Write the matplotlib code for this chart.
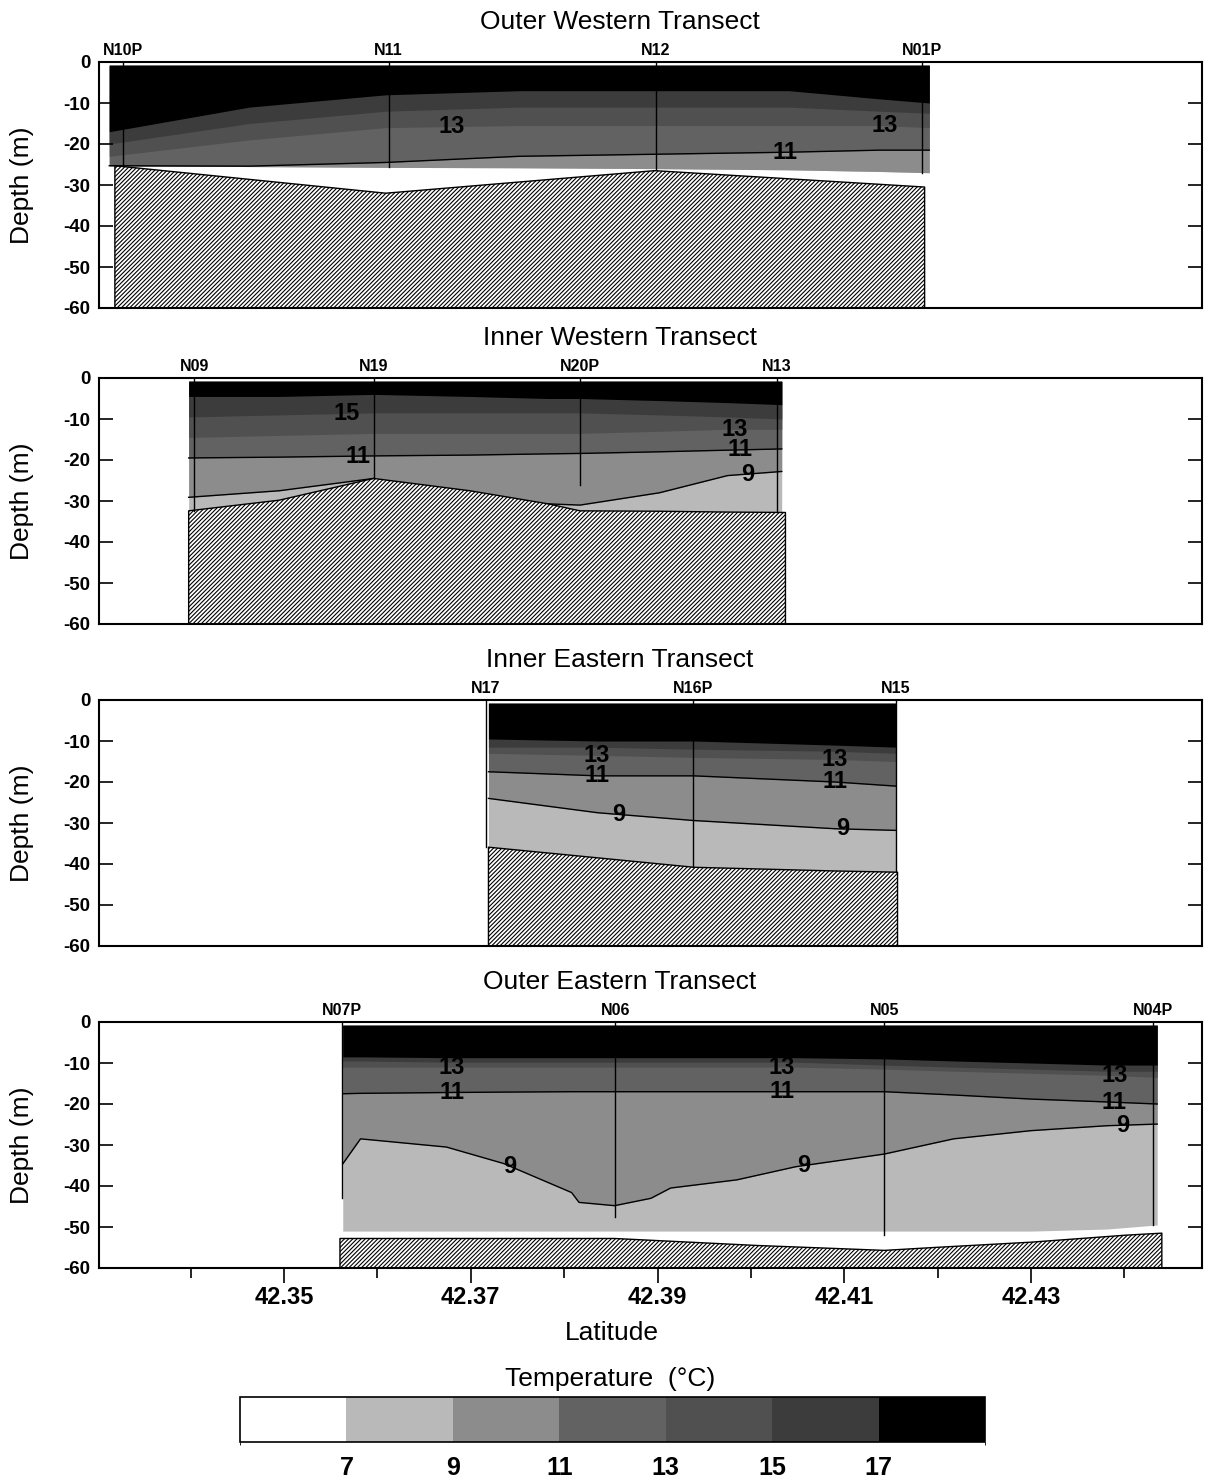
import numpy as np
import matplotlib.pyplot as plt
from matplotlib.colors import ListedColormap, BoundaryNorm
from matplotlib.cm import ScalarMappable

plt.rcParams['font.family'] = ['Liberation Sans', 'DejaVu Sans']
plt.rcParams['axes.unicode_minus'] = False
plt.rcParams['hatch.linewidth'] = 0.8

# temperature classes (deg C) and the grey used for each band
temp_levels = [7, 9, 11, 13, 15, 17]
band_colors = ['#ffffff', '#b9b9b9', '#8c8c8c', '#626262', '#505050', '#3c3c3c', '#000000']
surface = -0.8

# ---- Outer Western Transect ----
ow_lat = [42.3313, 42.3463, 42.3609, 42.3752, 42.3897, 42.4041, 42.4138, 42.4191]
ow_t17 = [-17, -11, -8, -7, -7, -7, -9, -10]
ow_t15 = [-20, -15, -12, -11, -11, -11, -12, -12.5]
ow_t13 = [-23, -19, -16, -15.5, -15.5, -15.5, -15.5, -16]
ow_t11 = [-25.3, -25.4, -24.5, -23, -22.5, -22, -21.5, -21.5]
ow_t9 = [-25.3, -25.5, -25.7, -25.8, -26.0, -26.3, -26.7, -27]
ow_bottom = [-25.3, -25.5, -25.7, -25.8, -26.0, -26.3, -26.7, -27]
ow_floor_lat = [42.3319, 42.3609, 42.3897, 42.4186]
ow_floor = [-25.3, -32, -26.5, -30.5]
ow_stations = ['N10P', 'N11', 'N12', 'N01P']
ow_station_lat = [42.3328, 42.3612, 42.3898, 42.4183]
ow_cast = [-25.3, -25.7, -26.0, -27]
ow_labels = ['13', '11', '13']
ow_label_lat = [42.3680, 42.4036, 42.4143]

# ---- Inner Western Transect ----
iw_lat = [42.3398, 42.3495, 42.3596, 42.3699, 42.3783, 42.3817, 42.3902, 42.3975, 42.4033]
iw_t17 = [-4.5, -4.5, -4, -4.5, -5, -5, -5.5, -6, -6.5]
iw_t15 = [-9.5, -9, -8.5, -8.5, -8.5, -8.5, -9, -9.5, -10]
iw_t13 = [-14.5, -14, -13.5, -13.5, -13.5, -13.5, -13, -12.5, -12.5]
iw_t11 = [-19.5, -19.3, -19, -18.8, -18.5, -18.4, -18, -17.6, -17.3]
iw_t9 = [-29.1, -27.5, -24.5, -27.5, -30.7, -31.0, -28, -23.8, -22.8]
iw_bottom = [-32.4, -29.8, -24.5, -27.5, -30.7, -32.4, -32.5, -32.7, -32.8]
iw_floor_lat = [42.3398, 42.3495, 42.3596, 42.3699, 42.3783, 42.3817, 42.3902, 42.3975, 42.4037]
iw_floor = [-32.4, -29.8, -24.5, -27.5, -30.7, -32.4, -32.5, -32.7, -32.8]
iw_stations = ['N09', 'N19', 'N20P', 'N13']
iw_station_lat = [42.3404, 42.3596, 42.3817, 42.4028]
iw_cast = [-32.4, -24.5, -26.0, -32.8]
iw_labels = ['15', '11', '13', '11', '9']
iw_label_lat = [42.3567, 42.3579, 42.3983, 42.3988, 42.3997]

# ---- Inner Eastern Transect ----
ie_lat = [42.3719, 42.3836, 42.3939, 42.4090, 42.4155]
ie_t17 = [-9.5, -10, -10, -11, -11.5]
ie_t15 = [-11.5, -11.5, -12, -12.5, -13]
ie_t13 = [-13, -13.5, -14, -14.5, -15]
ie_t11 = [-17.5, -18.5, -18.5, -20, -21]
ie_t9 = [-24, -27.5, -29.4, -31.4, -31.8]
ie_bottom = [-35.9, -38.5, -40.8, -41.7, -42.0]
ie_floor_lat = [42.3719, 42.3836, 42.3939, 42.4090, 42.4157]
ie_floor = [-35.9, -38.5, -40.8, -41.7, -42.0]
ie_stations = ['N17', 'N16P', 'N15']
ie_station_lat = [42.3716, 42.3938, 42.4155]
ie_cast = [-35.9, -40.8, -42.0]
ie_labels = ['13', '11', '13', '11', '9', '9']
ie_label_lat = [42.3835, 42.3835, 42.4090, 42.4090, 42.3858, 42.4098]

# ---- Outer Eastern Transect ----
oe_lat = [42.3563, 42.3582, 42.3674, 42.3735, 42.3808, 42.3816, 42.3854, 42.3893,
          42.3914, 42.3985, 42.4048, 42.4143, 42.4217, 42.4300, 42.4381, 42.4435]
oe_t17 = [-8.5, -8.5, -8.7, -8.7, -8.7, -8.7, -8.7, -8.7,
          -8.7, -8.7, -8.7, -9, -9.5, -10, -10.5, -10.5]
oe_t15 = [-9.5, -9.5, -9.8, -9.8, -9.8, -9.8, -9.8, -9.8,
          -9.8, -9.8, -9.8, -10.5, -11, -11.5, -12, -12]
oe_t13 = [-11, -11, -11, -11, -11, -11, -11, -11,
          -11, -11, -11, -11.5, -12, -12.5, -13, -13.5]
oe_t11 = [-17.5, -17.4, -17.2, -17.1, -17, -17, -17, -17,
          -17, -17, -17, -17, -17.8, -18.8, -19.5, -20]
oe_t9 = [-34.6, -28.5, -30.5, -34.5, -41.6, -44, -44.8, -43,
         -40.5, -38.5, -35.3, -32.2, -28.5, -26.5, -25.3, -24.9]
oe_bottom = [-51, -51, -51, -51, -51, -51, -51, -51,
             -51, -51, -51, -51, -51, -51, -50.5, -49.5]
oe_floor_lat = [42.3560, 42.3854, 42.4006, 42.4143, 42.4196, 42.4300, 42.4401, 42.4440]
oe_floor = [-52.8, -52.8, -54.5, -55.7, -55, -53.7, -52, -51.5]
oe_stations = ['N07P', 'N06', 'N05', 'N04P']
oe_station_lat = [42.3562, 42.3855, 42.4143, 42.4431]
oe_cast = [-43, -47.5, -52, -49.5]
oe_labels = ['13', '11', '13', '11', '13', '11', '9', '9', '9']
oe_label_lat = [42.3680, 42.3680, 42.4033, 42.4033, 42.4389, 42.4389, 42.4398, 42.3742, 42.4057]

titles = ['Outer Western Transect', 'Inner Western Transect',
          'Inner Eastern Transect', 'Outer Eastern Transect']

panels = [
    (ow_lat, [ow_t17, ow_t15, ow_t13, ow_t11, ow_t9], ow_bottom, ow_floor_lat, ow_floor,
     ow_stations, ow_station_lat, ow_cast, ow_labels, ow_label_lat),
    (iw_lat, [iw_t17, iw_t15, iw_t13, iw_t11, iw_t9], iw_bottom, iw_floor_lat, iw_floor,
     iw_stations, iw_station_lat, iw_cast, iw_labels, iw_label_lat),
    (ie_lat, [ie_t17, ie_t15, ie_t13, ie_t11, ie_t9], ie_bottom, ie_floor_lat, ie_floor,
     ie_stations, ie_station_lat, ie_cast, ie_labels, ie_label_lat),
    (oe_lat, [oe_t17, oe_t15, oe_t13, oe_t11, oe_t9], oe_bottom, oe_floor_lat, oe_floor,
     oe_stations, oe_station_lat, oe_cast, oe_labels, oe_label_lat),
]

W, H = 1216, 1478
fig = plt.figure(figsize=(W / 100, H / 100), dpi=100)

panel_tops = [62, 378, 700, 1022]
panel_h = 246
ax_left, ax_right = 99, 1202

for k, (lat, isos, bottom, flat, fdep, names, slat, cast, labs, lablat) in enumerate(panels):
    top = panel_tops[k]
    ax = fig.add_axes([ax_left / W, 1 - (top + panel_h) / H,
                       (ax_right - ax_left) / W, panel_h / H])
    lat = np.array(lat)
    iso = dict(zip([17, 15, 13, 11, 9], [np.array(v) for v in isos]))
    bottom = np.array(bottom)

    # layered fills, coldest first, each painted from the surface down
    lowers = [bottom, iso[9], iso[11], iso[13], iso[15], iso[17]]
    for lower, col in zip(lowers, band_colors[1:]):
        ax.fill_between(lat, surface, lower, color=col, lw=0)

    # isotherm lines for the colder classes, kept where they cross the water
    for t in (11, 9):
        inside = iso[t] > bottom + 0.05
        keep = inside.copy()
        keep[1:] |= inside[:-1]
        keep[:-1] |= inside[1:]
        ax.plot(lat, np.where(keep, iso[t], np.nan), color='black', lw=1.0)

    # sea floor
    ax.fill_between(flat, fdep, -60, facecolor='white', edgecolor='black',
                    hatch='////////', lw=1.0)

    # CTD casts
    for s, d in zip(slat, cast):
        ax.plot([s, s], [0, d], color='black', lw=1.0)
    for n, s in zip(names, slat):
        ax.annotate(n, (s, 0), xytext=(0, 3), textcoords='offset points',
                    ha='center', va='bottom', fontsize=11.5, fontweight='bold')

    # contour labels sit on the isotherm they name
    for txt, la in zip(labs, lablat):
        d = np.interp(la, lat, iso[int(txt)])
        ax.text(la, d, txt, ha='center', va='center', fontsize=17,
                fontweight='bold', color='black')

    ax.set_xlim(42.3302, 42.4483)
    ax.set_ylim(-60, 0)
    ax.set_yticks(range(-60, 1, 10))
    ax.tick_params(axis='y', direction='in', length=10, width=1.2, right=True,
                   labelsize=13.5, pad=6)
    for lb in ax.get_yticklabels():
        lb.set_fontweight('bold')
    for sp in ax.spines.values():
        sp.set_linewidth(1.5)

    if k < 3:
        ax.set_xticks([])
    else:
        ax.set_xticks([42.35, 42.37, 42.39, 42.41, 42.43])
        ax.set_xticklabels(['42.35', '42.37', '42.39', '42.41', '42.43'],
                           fontsize=17, fontweight='bold')
        ax.set_xticks([42.34, 42.36, 42.38, 42.40, 42.42, 42.44], minor=True)
        ax.tick_params(axis='x', which='major', direction='out', length=11,
                       width=1.2, pad=2)
        ax.tick_params(axis='x', which='minor', direction='out', length=7, width=1.2)

    fig.text(620 / W, 1 - (top - 40) / H, titles[k], ha='center', va='center',
             fontsize=19)
    fig.text(22 / W, 1 - (top + panel_h / 2) / H, 'Depth (m)', rotation=90,
             ha='center', va='center', fontsize=19)

fig.text(612 / W, 1 - 1333 / H, 'Latitude', ha='center', va='center', fontsize=19)
fig.text(610 / W, 1 - 1379 / H, 'Temperature  (°C)', ha='center', va='center',
         fontsize=19)

# temperature key
cax = fig.add_axes([240 / W, 1 - 1442 / H, 745 / W, 45 / H])
bounds = [5] + temp_levels + [19]
cmap = ListedColormap(band_colors)
norm = BoundaryNorm(bounds, cmap.N)
cb = fig.colorbar(ScalarMappable(norm=norm, cmap=cmap), cax=cax,
                  orientation='horizontal', ticks=temp_levels)
cb.ax.tick_params(length=0, pad=10, labelsize=18)
cb.ax.set_xticklabels([str(t) for t in temp_levels], fontweight='bold')
cb.outline.set_linewidth(1.2)

fig.savefig('out.png', dpi=100)
